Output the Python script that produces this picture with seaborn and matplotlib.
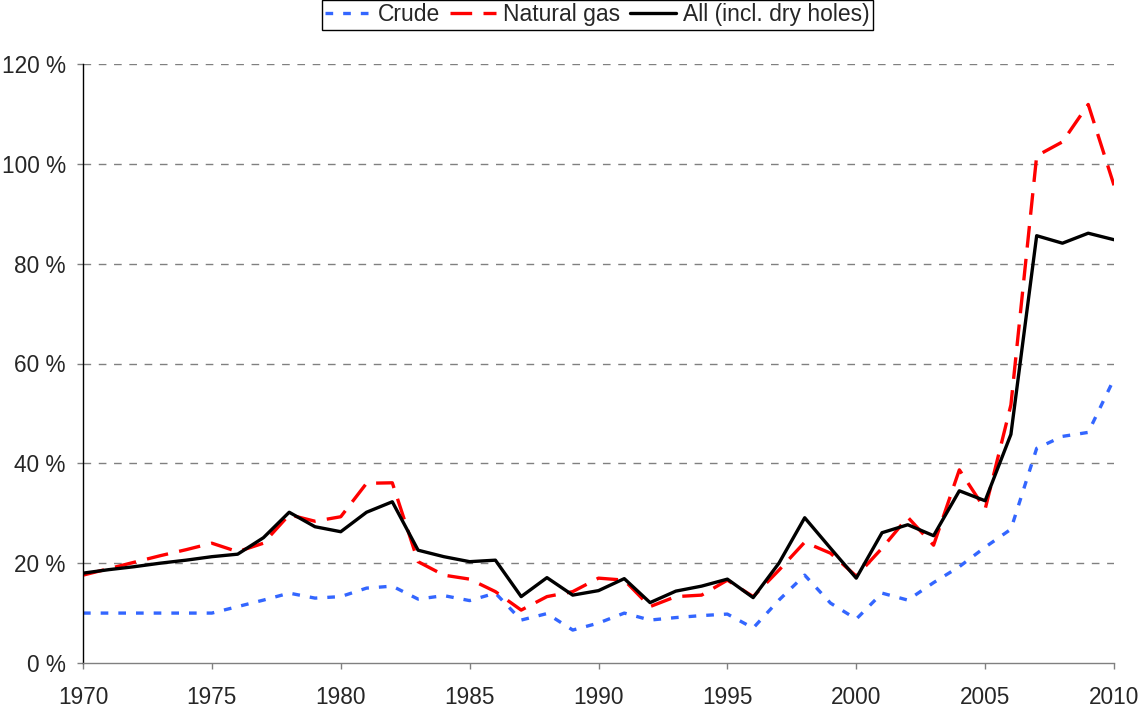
import matplotlib
matplotlib.use("Agg")
import matplotlib.pyplot as plt
import seaborn as sns
import pandas as pd

years = [1970, 1971, 1972, 1973, 1974, 1975, 1976, 1977, 1978, 1979,
         1980, 1981, 1982, 1983, 1984, 1985, 1986, 1987, 1988, 1989,
         1990, 1991, 1992, 1993, 1994, 1995, 1996, 1997, 1998, 1999,
         2000, 2001, 2002, 2003, 2004, 2005, 2006, 2007, 2008, 2009, 2010]
crude = [10, 10, 10, 10, 10, 10, 11.3, 12.6, 14.0, 13.0,
         13.3, 15.0, 15.4, 12.8, 13.5, 12.5, 14.0, 8.6, 9.9, 6.6,
         8.0, 10.0, 8.6, 9.1, 9.5, 9.8, 7.0, 12.6, 17.6, 12.0,
         8.8, 14.0, 12.6, 16.1, 19.3, 23.2, 26.8, 43.0, 45.4, 46.2, 56.9]
gas = [17.6, 18.9, 20.2, 21.5, 22.7, 24.0, 22.3, 24.0, 29.7, 28.4,
       29.3, 36.0, 36.1, 20.3, 17.6, 16.8, 14.3, 10.6, 13.3, 14.3,
       17.0, 16.6, 11.3, 13.3, 13.6, 16.6, 13.3, 18.6, 24.2, 22.0,
       17.4, 23.0, 29.2, 23.6, 38.7, 30.8, 51.7, 101.6, 104.4, 111.9, 95.7]
all_wells = [18.0, 18.7, 19.3, 20.0, 20.6, 21.3, 21.8, 25.1, 30.2, 27.3,
             26.3, 30.2, 32.3, 22.6, 21.3, 20.3, 20.6, 13.3, 17.1, 13.6,
             14.5, 16.9, 12.1, 14.4, 15.4, 16.8, 13.1, 20.0, 29.1, 23.0,
             17.0, 26.1, 27.7, 25.5, 34.5, 32.5, 45.8, 85.6, 84.1, 86.1, 84.8]
labels = ["Crude", "Natural gas", "All (incl. dry holes)"]
y_ticks = [0, 20, 40, 60, 80, 100, 120]
x_ticks = [1970, 1975, 1980, 1985, 1990, 1995, 2000, 2005, 2010]

sns.set_style("white")
plt.rcParams['font.family'] = ['Liberation Sans', 'DejaVu Sans']

fig = plt.figure(figsize=(11.38, 7.09), dpi=100)
ax = fig.add_axes([83 / 1138, 46 / 709, 1031 / 1138, 599 / 709])

df = pd.DataFrame({"year": years, "crude": crude, "gas": gas, "all": all_wells})

LW = 2.4
sns.lineplot(data=df, x="year", y="crude", ax=ax, color="#3366FF",
             linewidth=LW, label=labels[0])
ax.lines[-1].set_dashes((2.3, 3.0))
sns.lineplot(data=df, x="year", y="gas", ax=ax, color="#FF0000",
             linewidth=LW, label=labels[1])
ax.lines[-1].set_dashes((6.5, 3.4))
sns.lineplot(data=df, x="year", y="all", ax=ax, color="#000000",
             linewidth=LW, label=labels[2])

ax.set_xlim(1970, 2010)
ax.set_ylim(0, 120)
ax.set_xticks(x_ticks)
ax.set_yticks(y_ticks)
ax.set_yticklabels([f"{v} %" for v in y_ticks])
ax.set_xlabel("")
ax.set_ylabel("")

for v in y_ticks[1:]:
    ax.axhline(v, color="#808080", linewidth=1.0, dashes=(5.5, 5.5), zorder=0)

for s in ["top", "right"]:
    ax.spines[s].set_visible(False)
ax.spines["left"].set_color("black")
ax.spines["left"].set_linewidth(1.0)
ax.spines["bottom"].set_color("#808080")
ax.spines["bottom"].set_linewidth(1.0)

ax.tick_params(axis="y", direction="out", length=4.5, width=1, color="#808080",
               labelsize=16.3, pad=8, left=True)
ax.tick_params(axis="x", direction="out", length=4.5, width=1, color="#808080",
               labelsize=16.3, pad=12, bottom=True)

ax.get_legend().remove()
handles, lbls = ax.get_legend_handles_labels()
leg = fig.legend(handles, lbls, loc="upper center", bbox_to_anchor=(0.525, 1.0),
                 ncol=3, fontsize=16.5, frameon=True, fancybox=False,
                 edgecolor="black", framealpha=1, handlelength=2.0,
                 handletextpad=0.3, columnspacing=0.45, borderpad=0.15,
                 borderaxespad=0)
leg.get_frame().set_linewidth(1.0)

fig.savefig("out.png", dpi=100)
